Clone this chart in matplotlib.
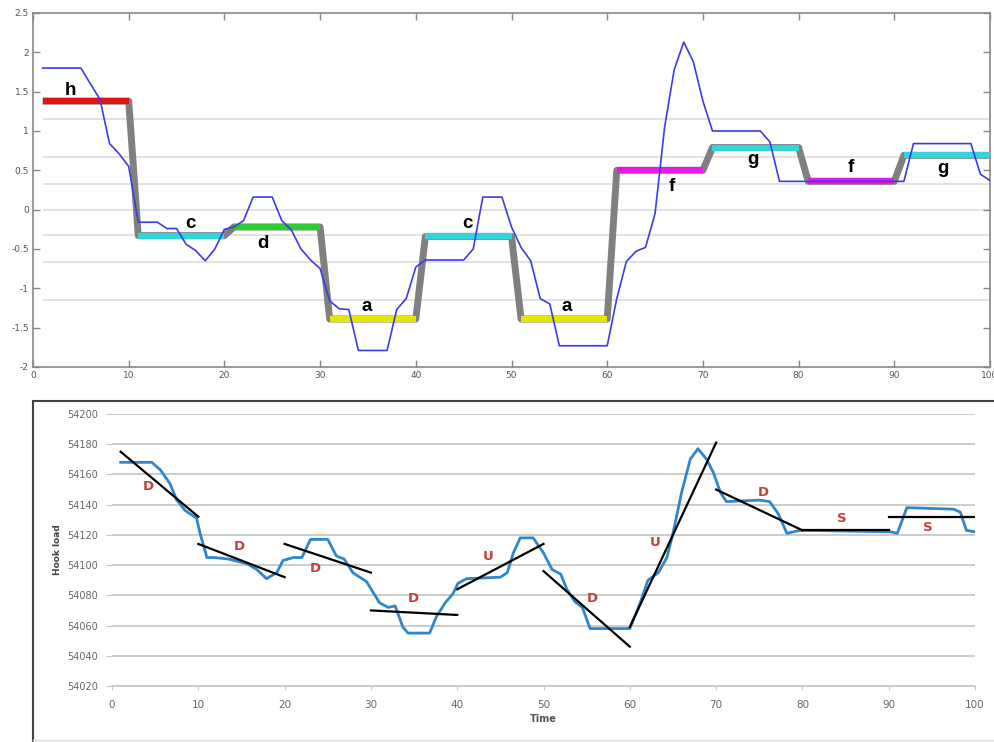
import matplotlib.pyplot as plt
from matplotlib.lines import Line2D

# ---- top panel: raw series + PAA / SAX symbols ----
raw_x = [1, 5, 7, 8, 9, 10, 11, 13, 14, 15, 16, 17, 18, 19, 20, 21, 22, 23, 25,
         26, 27, 28, 29, 30, 31, 32, 33, 34, 37, 38, 39, 40, 41, 45, 46, 47, 49,
         50, 51, 52, 53, 54, 55, 60, 61, 62, 63, 64, 65, 66, 67, 68, 69, 70, 71,
         76, 77, 78, 91, 92, 98, 99, 100]
raw_y = [1.80, 1.80, 1.40, 0.84, 0.71, 0.55, -0.16, -0.16, -0.24, -0.24, -0.44,
         -0.52, -0.65, -0.50, -0.25, -0.22, -0.14, 0.16, 0.16, -0.14, -0.26,
         -0.50, -0.64, -0.75, -1.16, -1.26, -1.27, -1.79, -1.79, -1.27, -1.13,
         -0.73, -0.64, -0.64, -0.50, 0.16, 0.16, -0.22, -0.48, -0.65, -1.13,
         -1.20, -1.73, -1.73, -1.13, -0.66, -0.53, -0.48, -0.05, 1.05, 1.78,
         2.13, 1.88, 1.38, 1.00, 1.00, 0.86, 0.36, 0.36, 0.84, 0.84, 0.45, 0.37]

seg_start = [1, 11, 21, 31, 41, 51, 61, 71, 81, 91]
seg_end = [10, 20, 30, 40, 50, 60, 70, 80, 90, 100]
seg_val = [1.38, -0.33, -0.22, -1.39, -0.34, -1.39, 0.50, 0.79, 0.36, 0.69]
seg_sym = ['h', 'c', 'd', 'a', 'c', 'a', 'f', 'g', 'f', 'g']
sym_color = {'a': '#e6e600', 'c': '#33d4dc', 'd': '#2ecc2e', 'f': '#e619e6',
             'g': '#33d4dc', 'h': '#e01414'}
# letter label positions
sym_x = [3.9, 16.4, 24.0, 34.9, 45.4, 55.8, 66.8, 75.2, 85.5, 95.1]
sym_y = [1.51, -0.18, -0.43, -1.23, -0.18, -1.23, 0.30, 0.64, 0.54, 0.52]

breakpoints = [-1.15, -0.67, -0.32, 0, 0.32, 0.67, 1.15]

# ---- bottom panel: hook load ----
hl_x = [1, 4.6, 5.6, 6.7, 7.5, 8.5, 9.8, 10.2, 11, 11.8, 13.5, 15.6, 16.8,
        17.9, 19.1, 19.8, 21, 22, 23, 25, 26, 26.9, 27.9, 29.5, 31, 32, 32.8,
        33.7, 34.3, 36.8, 37.6, 38.6, 39.5, 40.1, 41.1, 45, 45.8, 46.5, 47.3,
        48.8, 50, 51, 52, 52.7, 53.6, 54.5, 55.4, 60, 61.2, 62.1, 63.3, 64.3,
        65, 66, 67, 67.9, 68.9, 69.7, 70.5, 71.2, 75, 76.2, 77.2, 78.2, 79.7,
        90.2, 91, 92.1, 97.5, 98.3, 99, 100]
hl_y = [54168, 54168, 54163, 54154, 54143, 54136, 54131, 54121, 54105, 54105,
        54104, 54101, 54097, 54091, 54095, 54103, 54105, 54105, 54117, 54117,
        54106, 54104, 54095, 54089, 54075, 54072, 54073, 54059, 54055, 54055,
        54066, 54075, 54081, 54088, 54091, 54092, 54095, 54108, 54118, 54118,
        54108, 54097, 54094, 54084, 54076, 54072, 54058, 54058, 54075, 54090,
        54095, 54105, 54121, 54148, 54170, 54177, 54170, 54161, 54148, 54142,
        54143, 54142, 54134, 54121, 54123, 54122, 54121, 54138, 54137, 54135,
        54123, 54122]

trend_x0 = [1, 10, 20, 30, 40, 50, 60, 70, 80, 90]
trend_x1 = [10, 20, 30, 40, 50, 60, 70, 80, 90, 100]
trend_y0 = [54175, 54114, 54114, 54070, 54084, 54096, 54059, 54150, 54123, 54132]
trend_y1 = [54132, 54092, 54095, 54067, 54114, 54046, 54181, 54123, 54123, 54132]
trend_lab = ['D', 'D', 'D', 'D', 'U', 'D', 'U', 'D', 'S', 'S']
lab_x = [4.2, 14.8, 23.5, 34.9, 43.6, 55.6, 62.9, 75.5, 84.6, 94.5]
lab_y = [54152, 54112, 54098, 54078, 54106, 54078, 54115, 54148, 54131, 54125]

fig = plt.figure(figsize=(9.94, 7.42), dpi=100)

# top
ax1 = fig.add_axes([0.0332, 0.5054, 0.9628, 0.4771])
ax1.set_xlim(0, 100)
ax1.set_ylim(-2, 2.5)
ax1.hlines(breakpoints, 1, 100, color='#dddddd', lw=1.2, zorder=0)

gx, gy = [], []
for s, e, v in zip(seg_start, seg_end, seg_val):
    gx += [s, e]
    gy += [v, v]
ax1.plot(gx, gy, color='#808080', lw=5, solid_capstyle='butt', zorder=2)
for s, e, v, sym in zip(seg_start, seg_end, seg_val, seg_sym):
    ax1.plot([s, e], [v, v], color=sym_color[sym], lw=4.5,
             solid_capstyle='butt', zorder=3)
ax1.plot(raw_x, raw_y, color='#3c3ce6', lw=1.2, zorder=4)
for x, y, s in zip(sym_x, sym_y, seg_sym):
    ax1.text(x, y, s, fontsize=13.5, fontweight='bold', ha='center',
             va='center', family='Liberation Sans', zorder=5)

ax1.set_xticks(range(0, 101, 10))
ax1.set_yticks([-2, -1.5, -1, -0.5, 0, 0.5, 1, 1.5, 2, 2.5])
ax1.set_yticklabels(['-2', '-1.5', '-1', '-0.5', '0', '0.5', '1', '1.5', '2',
                     '2.5'])
ax1.tick_params(direction='in', length=5, width=1, color='#888888',
                labelsize=6.5, labelcolor='#555555', top=True, right=True,
                pad=3)
for sp in ax1.spines.values():
    sp.set_color('#888888')
    sp.set_linewidth(1.2)

# bottom
ax2 = fig.add_axes([0.1127, 0.0755, 0.8682, 0.3666])
ax2.set_xlim(0, 100)
ax2.set_ylim(54020, 54200)
ax2.set_yticks(range(54020, 54201, 20))
ax2.set_xticks(range(0, 101, 10))
ax2.grid(axis='y', color='#c8c8c8', lw=1.3)
ax2.set_axisbelow(True)
for k in ['top', 'right', 'left']:
    ax2.spines[k].set_visible(False)
ax2.spines['bottom'].set_color('#c8c8c8')
ax2.spines['bottom'].set_linewidth(1.3)
ax2.tick_params(axis='y', length=4, color='#c8c8c8', labelsize=7,
                labelcolor='#666666', pad=6)
ax2.tick_params(axis='x', length=3, color='#c8c8c8', labelsize=7.5,
                labelcolor='#666666', pad=7)

ax2.plot(hl_x, hl_y, color='#2f86c9', lw=2, solid_joinstyle='round', zorder=3)
for x0, x1, y0, y1 in zip(trend_x0, trend_x1, trend_y0, trend_y1):
    ax2.plot([x0, x1], [y0, y1], color='black', lw=1.6, zorder=4)
for x, y, s in zip(lab_x, lab_y, trend_lab):
    ax2.text(x, y, s, color='#c83c3c', fontsize=9.5, fontweight='bold',
             ha='center', va='center', zorder=5)

ax2.set_ylabel('Hook load', fontsize=6.5, fontweight='bold', color='#444444',
               labelpad=4)
ax2.set_xlabel('Time', fontsize=7, fontweight='bold', color='#555555',
               labelpad=3)

# frame around the lower picture
fig.add_artist(Line2D([33 / 994, 1], [1 - 401 / 742] * 2, color='#444444',
                      lw=1.5))
fig.add_artist(Line2D([33 / 994] * 2, [0, 1 - 401 / 742], color='#444444',
                      lw=1.5))
fig.add_artist(Line2D([33 / 994, 1], [1 - 740 / 742] * 2, color='#dddddd',
                      lw=1))

fig.savefig('out.png', dpi=100)
